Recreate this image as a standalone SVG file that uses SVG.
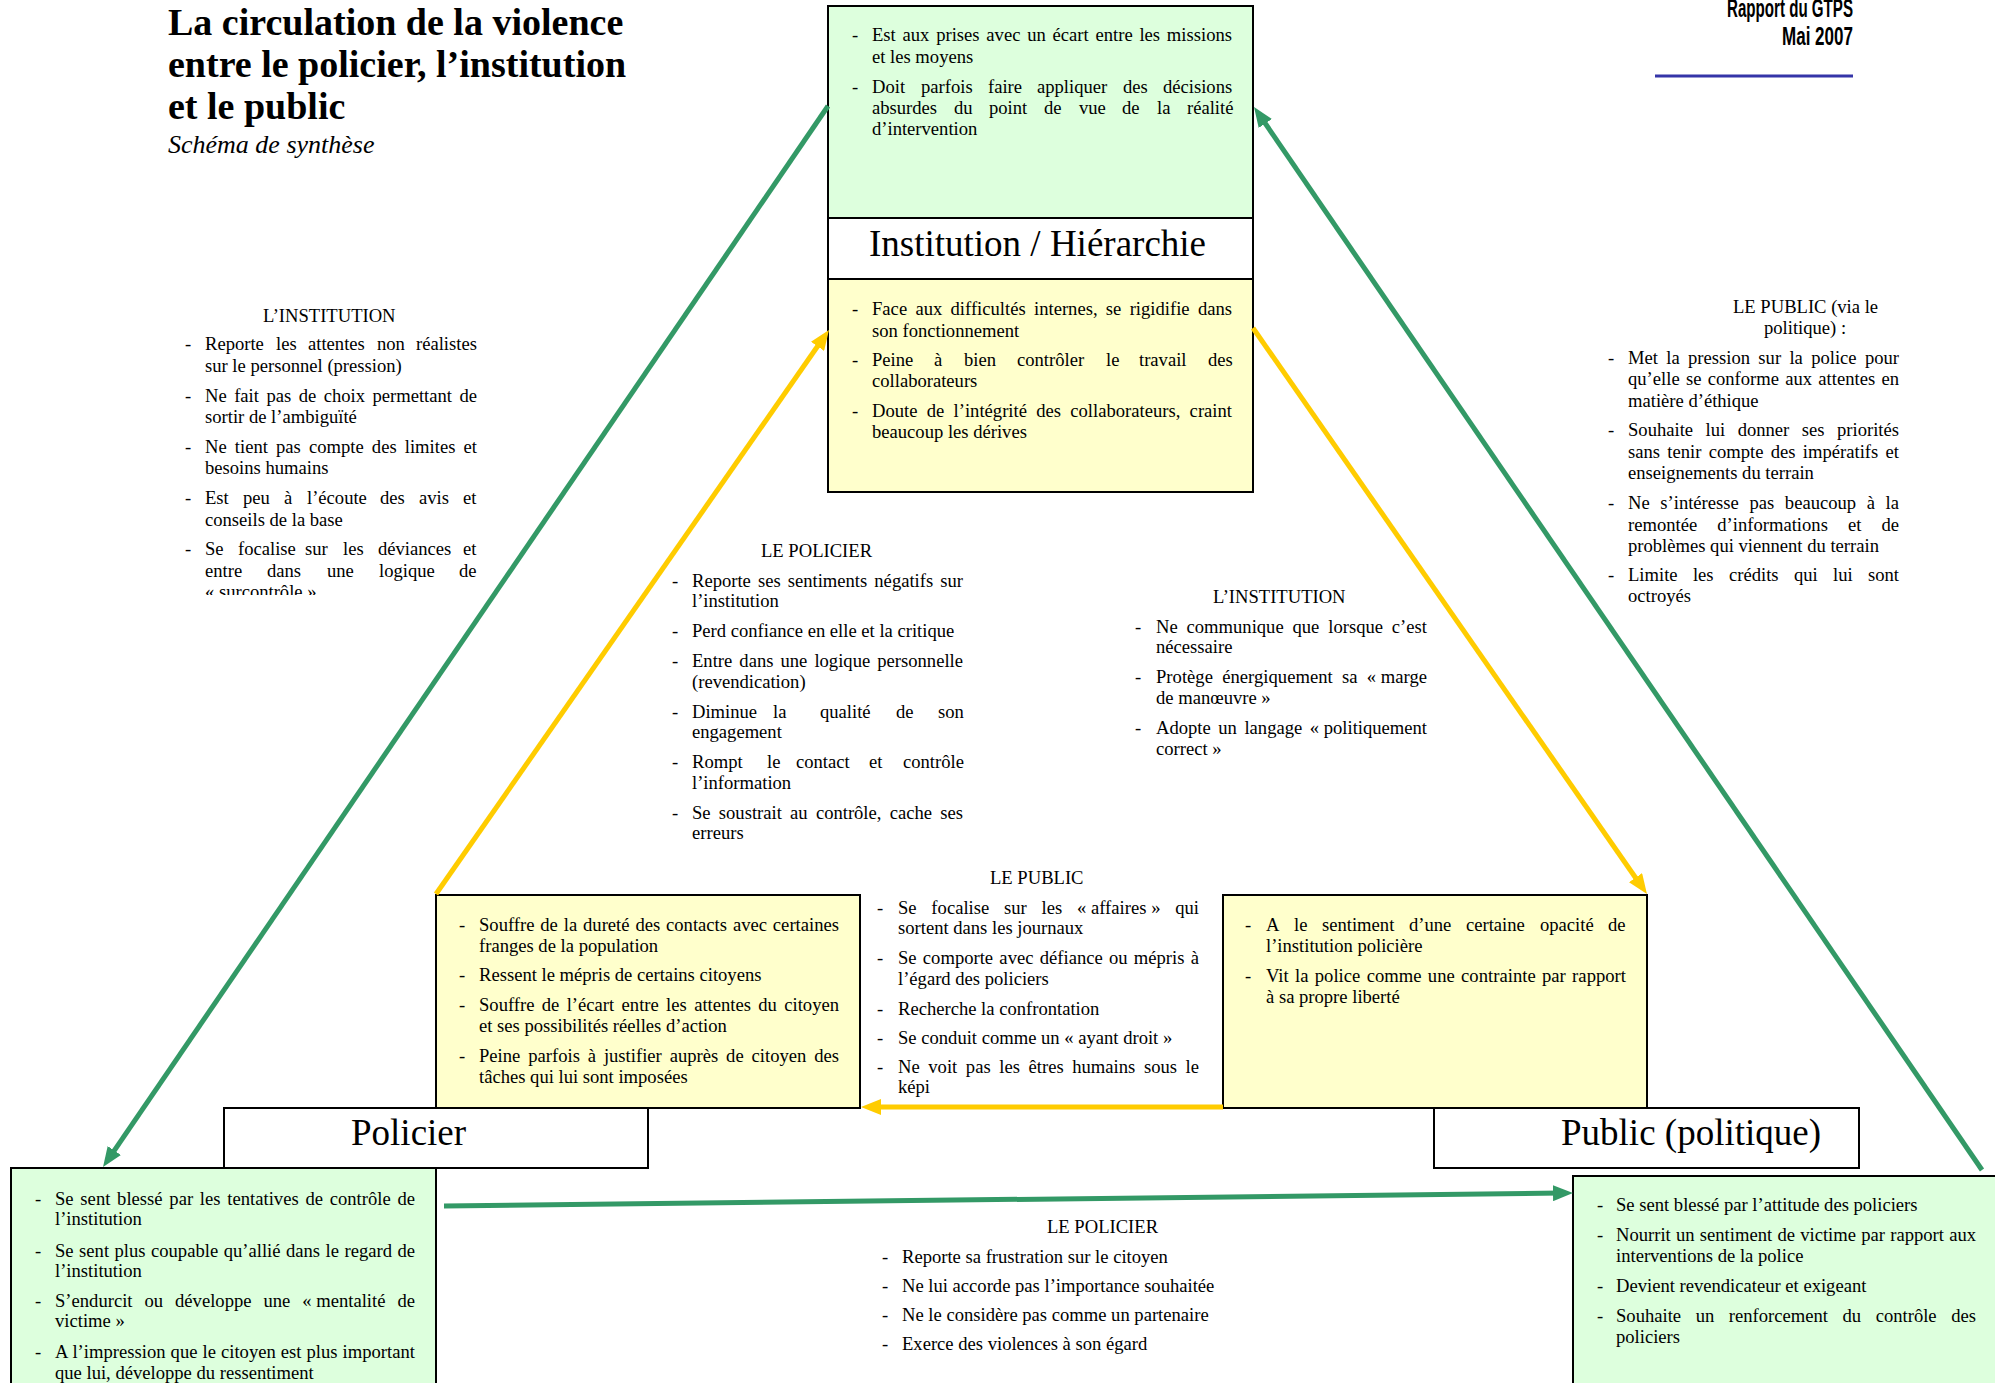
<svg xmlns="http://www.w3.org/2000/svg" width="1995" height="1383" viewBox="0 0 1995 1383">
  <defs>
    <style>
      text { font-family: "Liberation Serif", "Times New Roman", serif; font-size: 18.6px; fill: #000; }
      .lbl { font-size: 37px; }
      .title { font-size: 38px; font-weight: bold; }
      .sub { font-size: 26px; font-style: italic; }
      .rep { font-family: "Liberation Sans", Arial, sans-serif; font-weight: bold; font-size: 25px; }
      .box { stroke: #000; stroke-width: 2; }
      .g { fill: #ddffdd; }
      .y { fill: #ffffcc; }
      .w { fill: #ffffff; }
      .cg { stroke: #339966; stroke-width: 5; fill: none; }
      .cy { stroke: #ffcc00; stroke-width: 5; fill: none; }
    </style>
    <marker id="ag" markerUnits="userSpaceOnUse" markerWidth="20" markerHeight="16" viewBox="0 0 20 16" refX="8" refY="8" orient="auto">
      <path d="M0,0 L20,8 L0,16 z" fill="#339966"/>
    </marker>
    <marker id="ay" markerUnits="userSpaceOnUse" markerWidth="20" markerHeight="16" viewBox="0 0 20 16" refX="8" refY="8" orient="auto">
      <path d="M0,0 L20,8 L0,16 z" fill="#ffcc00"/>
    </marker>
    <clipPath id="clipLeft">
      <rect x="150" y="290" width="340" height="305"/>
    </clipPath>
  </defs>

  <rect width="1995" height="1383" fill="#ffffff"/>

  <!-- Title -->
  <g id="title">
    <text class="title" x="168" y="35">La circulation de la violence</text>
    <text class="title" x="168" y="77">entre le policier, l’institution</text>
    <text class="title" x="168" y="119">et le public</text>
    <text class="sub" x="168" y="153">Schéma de synthèse</text>
  </g>

  <!-- Report reference, top right -->
  <g id="header">
    <text class="rep" x="1853" y="17" text-anchor="end" textLength="126" lengthAdjust="spacingAndGlyphs">Rapport du GTPS</text>
    <text class="rep" x="1853" y="45" text-anchor="end" textLength="71" lengthAdjust="spacingAndGlyphs">Mai 2007</text>
    <line x1="1655" y1="76" x2="1853" y2="76" stroke="#3535a8" stroke-width="3"/>
  </g>

  <!-- Institution / Hiérarchie -->
  <g id="node-institution">
    <rect class="box g" x="828" y="6" width="425" height="212"/>
    <rect class="box w" x="828" y="218" width="425" height="61"/>
    <rect class="box y" x="828" y="279" width="425" height="213"/>
    <text class="lbl" x="869" y="256">Institution / Hiérarchie</text>

    <text x="852" y="41">-</text>
    <text x="872" y="41" textLength="360" lengthAdjust="spacing" word-spacing="2.1">Est aux prises avec un écart entre les missions</text>
    <text x="872" y="63">et les moyens</text>
    <text x="852" y="93">-</text>
    <text y="93"><tspan x="872">Doit</tspan><tspan x="921">parfois</tspan><tspan x="988">faire</tspan><tspan x="1037">appliquer</tspan><tspan x="1123">des</tspan><tspan x="1163">décisions</tspan></text>
    <text y="114"><tspan x="872">absurdes</tspan><tspan x="954">du</tspan><tspan x="989">point</tspan><tspan x="1044">de</tspan><tspan x="1079">vue</tspan><tspan x="1122">de</tspan><tspan x="1157">la</tspan><tspan x="1187">réalité</tspan></text>
    <text x="872" y="135">d’intervention</text>

    <text x="852" y="315">-</text>
    <text x="872" y="315" textLength="360" lengthAdjust="spacing" word-spacing="3.6">Face aux difficultés internes, se rigidifie dans</text>
    <text x="872" y="337">son fonctionnement</text>
    <text x="852" y="366">-</text>
    <text y="366"><tspan x="872">Peine</tspan><tspan x="934">à</tspan><tspan x="964">bien</tspan><tspan x="1017">contrôler</tspan><tspan x="1106">le</tspan><tspan x="1139">travail</tspan><tspan x="1208">des</tspan></text>
    <text x="872" y="387">collaborateurs</text>
    <text x="852" y="417">-</text>
    <text x="872" y="417" textLength="360" lengthAdjust="spacing" word-spacing="4.6">Doute de l’intégrité des collaborateurs, craint</text>
    <text x="872" y="438">beaucoup les dérives</text>
  </g>

  <!-- Policier -->
  <g id="node-policier">
    <rect class="box y" x="436" y="895" width="424" height="213"/>
    <rect class="box w" x="224" y="1108" width="424" height="60"/>
    <rect class="box g" x="11" y="1168" width="425" height="240"/>
    <text class="lbl" x="351" y="1145">Policier</text>

    <text x="459" y="931">-</text>
    <text x="479" y="931" textLength="360" lengthAdjust="spacing" word-spacing="1.2">Souffre de la dureté des contacts avec certaines</text>
    <text x="479" y="952">franges de la population</text>
    <text x="459" y="981">-</text>
    <text x="479" y="981">Ressent le mépris de certains citoyens</text>
    <text x="459" y="1011">-</text>
    <text x="479" y="1011" textLength="360" lengthAdjust="spacing" word-spacing="2.7">Souffre de l’écart entre les attentes du citoyen</text>
    <text x="479" y="1032">et ses possibilités réelles d’action</text>
    <text x="459" y="1062">-</text>
    <text x="479" y="1062" textLength="360" lengthAdjust="spacing" word-spacing="3.2">Peine parfois à justifier auprès de citoyen des</text>
    <text x="479" y="1083">tâches qui lui sont imposées</text>

    <text x="35" y="1205">-</text>
    <text x="55" y="1205" textLength="360" lengthAdjust="spacing" word-spacing="2.1">Se sent blessé par les tentatives de contrôle de</text>
    <text x="55" y="1225">l’institution</text>
    <text x="35" y="1257">-</text>
    <text x="55" y="1257" textLength="360" lengthAdjust="spacing" word-spacing="0.8">Se sent plus coupable qu’allié dans le regard de</text>
    <text x="55" y="1277">l’institution</text>
    <text x="35" y="1307">-</text>
    <text x="55" y="1307" textLength="360" lengthAdjust="spacing" word-spacing="7.3">S’endurcit ou développe une <tspan word-spacing="0">« mentalité</tspan> de</text>
    <text x="55" y="1327">victime »</text>
    <text x="35" y="1358">-</text>
    <text x="55" y="1358" textLength="360" lengthAdjust="spacing" word-spacing="0.3">A l’impression que le citoyen est plus important</text>
    <text x="55" y="1379">que lui, développe du ressentiment</text>
  </g>

  <!-- Public (politique) -->
  <g id="node-public">
    <rect class="box y" x="1223" y="895" width="424" height="213"/>
    <rect class="box w" x="1434" y="1108" width="425" height="60"/>
    <rect class="box g" x="1573" y="1176" width="440" height="230"/>
    <text class="lbl" x="1561" y="1145">Public (politique)</text>

    <text x="1245" y="931">-</text>
    <text y="931"><tspan x="1266">A</tspan><tspan x="1294">le</tspan><tspan x="1322">sentiment</tspan><tspan x="1409">d’une</tspan><tspan x="1466">certaine</tspan><tspan x="1540">opacité</tspan><tspan x="1608">de</tspan></text>
    <text x="1266" y="952">l’institution policière</text>
    <text x="1245" y="982">-</text>
    <text x="1266" y="982" textLength="360" lengthAdjust="spacing" word-spacing="1.6">Vit la police comme une contrainte par rapport</text>
    <text x="1266" y="1003">à sa propre liberté</text>

    <text x="1597" y="1211">-</text>
    <text x="1616" y="1211">Se sent blessé par l’attitude des policiers</text>
    <text x="1597" y="1241">-</text>
    <text x="1616" y="1241" textLength="360" lengthAdjust="spacing" word-spacing="0.6">Nourrit un sentiment de victime par rapport aux</text>
    <text x="1616" y="1262">interventions de la police</text>
    <text x="1597" y="1292">-</text>
    <text x="1616" y="1292">Devient revendicateur et exigeant</text>
    <text x="1597" y="1322">-</text>
    <text x="1616" y="1322" textLength="360" lengthAdjust="spacing" word-spacing="9.9">Souhaite un renforcement du contrôle des</text>
    <text x="1616" y="1343">policiers</text>
  </g>

  <!-- Connectors -->
  <g id="connectors">
    <line class="cg" x1="828" y1="106" x2="109.8" y2="1157.1" marker-end="url(#ag)"/>
    <line class="cg" x1="1982" y1="1170" x2="1260.8" y2="116.9" marker-end="url(#ag)"/>
    <line class="cg" x1="444" y1="1206" x2="1561" y2="1193.1" marker-end="url(#ag)"/>
    <line class="cy" x1="436" y1="894" x2="822.1" y2="339.8" marker-end="url(#ay)"/>
    <line class="cy" x1="1253" y1="328" x2="1640.1" y2="884.2" marker-end="url(#ay)"/>
    <line class="cy" x1="1223" y1="1107" x2="873" y2="1107" marker-end="url(#ay)"/>
  </g>

  <!-- Institution towards Policier -->
  <g id="label-institution-policier" clip-path="url(#clipLeft)">
    <text x="263" y="322">L’INSTITUTION</text>
    <text x="185" y="350">-</text>
    <text y="350"><tspan x="205">Reporte</tspan><tspan x="276">les</tspan><tspan x="308">attentes</tspan><tspan x="377">non</tspan><tspan x="416">réalistes</tspan></text>
    <text x="205" y="372">sur le personnel (pression)</text>
    <text x="185" y="402">-</text>
    <text x="205" y="402" textLength="272" lengthAdjust="spacing" word-spacing="2.8">Ne fait pas de choix permettant de</text>
    <text x="205" y="423">sortir de l’ambiguïté</text>
    <text x="185" y="453">-</text>
    <text x="205" y="453" textLength="272" lengthAdjust="spacing" word-spacing="3.5">Ne tient pas compte des limites et</text>
    <text x="205" y="474">besoins humains</text>
    <text x="185" y="504">-</text>
    <text y="504"><tspan x="205">Est</tspan><tspan x="243">peu</tspan><tspan x="284">à</tspan><tspan x="307">l’écoute</tspan><tspan x="380">des</tspan><tspan x="419">avis</tspan><tspan x="463">et</tspan></text>
    <text x="205" y="526">conseils de la base</text>
    <text x="185" y="555">-</text>
    <text y="555"><tspan x="205">Se</tspan><tspan x="238">focalise</tspan><tspan x="305">sur</tspan><tspan x="343">les</tspan><tspan x="378">déviances</tspan><tspan x="463">et</tspan></text>
    <text y="577"><tspan x="205">entre</tspan><tspan x="267">dans</tspan><tspan x="327">une</tspan><tspan x="379">logique</tspan><tspan x="459">de</tspan></text>
    <text x="205" y="598">« surcontrôle »</text>
  </g>

  <!-- Policier towards Institution -->
  <g id="label-policier-institution">
    <text x="761" y="557">LE POLICIER</text>
    <text x="672" y="587">-</text>
    <text x="692" y="587" textLength="271" lengthAdjust="spacing" word-spacing="2.4">Reporte ses sentiments négatifs sur</text>
    <text x="692" y="607">l’institution</text>
    <text x="672" y="637">-</text>
    <text x="692" y="637">Perd confiance en elle et la critique</text>
    <text x="672" y="667">-</text>
    <text x="692" y="667" textLength="271" lengthAdjust="spacing" word-spacing="2.4">Entre dans une logique personnelle</text>
    <text x="692" y="688">(revendication)</text>
    <text x="672" y="718">-</text>
    <text y="718"><tspan x="692">Diminue</tspan><tspan x="773">la</tspan><tspan x="820">qualité</tspan><tspan x="896">de</tspan><tspan x="938">son</tspan></text>
    <text x="692" y="738">engagement</text>
    <text x="672" y="768">-</text>
    <text y="768"><tspan x="692">Rompt</tspan><tspan x="767">le</tspan><tspan x="796">contact</tspan><tspan x="869">et</tspan><tspan x="903">contrôle</tspan></text>
    <text x="692" y="789">l’information</text>
    <text x="672" y="819">-</text>
    <text x="692" y="819" textLength="271" lengthAdjust="spacing" word-spacing="3.6">Se soustrait au contrôle, cache ses</text>
    <text x="692" y="839">erreurs</text>
  </g>

  <!-- Institution towards Public -->
  <g id="label-institution-public">
    <text x="1213" y="603">L’INSTITUTION</text>
    <text x="1135" y="633">-</text>
    <text x="1156" y="633" textLength="271" lengthAdjust="spacing" word-spacing="4.2">Ne communique que lorsque c’est</text>
    <text x="1156" y="653">nécessaire</text>
    <text x="1135" y="683">-</text>
    <text x="1156" y="683" textLength="271" lengthAdjust="spacing" word-spacing="4.6">Protège énergiquement sa <tspan word-spacing="0">« marge</tspan></text>
    <text x="1156" y="704">de manœuvre »</text>
    <text x="1135" y="734">-</text>
    <text x="1156" y="734" textLength="271" lengthAdjust="spacing" word-spacing="2.9">Adopte un langage <tspan word-spacing="0">« politiquement</tspan></text>
    <text x="1156" y="755">correct »</text>
  </g>

  <!-- Public towards Institution -->
  <g id="label-public-institution">
    <text x="1733" y="313">LE PUBLIC (via le</text>
    <text x="1764" y="334">politique) :</text>
    <text x="1608" y="364">-</text>
    <text x="1628" y="364" textLength="271" lengthAdjust="spacing" word-spacing="3.7">Met la pression sur la police pour</text>
    <text x="1628" y="385" textLength="271" lengthAdjust="spacing" word-spacing="1.6">qu’elle se conforme aux attentes en</text>
    <text x="1628" y="407">matière d’éthique</text>
    <text x="1608" y="436">-</text>
    <text x="1628" y="436" textLength="271" lengthAdjust="spacing" word-spacing="7.8">Souhaite lui donner ses priorités</text>
    <text x="1628" y="458" textLength="271" lengthAdjust="spacing" word-spacing="2.6">sans tenir compte des impératifs et</text>
    <text x="1628" y="479">enseignements du terrain</text>
    <text x="1608" y="509">-</text>
    <text x="1628" y="509" textLength="271" lengthAdjust="spacing" word-spacing="6">Ne s’intéresse pas beaucoup à la</text>
    <text x="1628" y="531" textLength="271" lengthAdjust="spacing" word-spacing="15.4">remontée d’informations et de</text>
    <text x="1628" y="552">problèmes qui viennent du terrain</text>
    <text x="1608" y="581">-</text>
    <text x="1628" y="581" textLength="271" lengthAdjust="spacing" word-spacing="10.7">Limite les crédits qui lui sont</text>
    <text x="1628" y="602">octroyés</text>
  </g>

  <!-- Public towards Policier -->
  <g id="label-public-policier">
    <text x="990" y="884">LE PUBLIC</text>
    <text x="877" y="914">-</text>
    <text x="898" y="914" textLength="301" lengthAdjust="spacing" word-spacing="10.1">Se focalise sur les <tspan word-spacing="0">« affaires »</tspan> qui</text>
    <text x="898" y="934">sortent dans les journaux</text>
    <text x="877" y="964">-</text>
    <text x="898" y="964" textLength="301" lengthAdjust="spacing" word-spacing="1.6">Se comporte avec défiance ou mépris à</text>
    <text x="898" y="985">l’égard des policiers</text>
    <text x="877" y="1015">-</text>
    <text x="898" y="1015">Recherche la confrontation</text>
    <text x="877" y="1044">-</text>
    <text x="898" y="1044">Se conduit comme un « ayant droit »</text>
    <text x="877" y="1073">-</text>
    <text x="898" y="1073" textLength="301" lengthAdjust="spacing" word-spacing="4">Ne voit pas les êtres humains sous le</text>
    <text x="898" y="1093">képi</text>
  </g>

  <!-- Policier towards Public -->
  <g id="label-policier-public">
    <text x="1047" y="1233">LE POLICIER</text>
    <text x="882" y="1263">-</text>
    <text x="902" y="1263">Reporte sa frustration sur le citoyen</text>
    <text x="882" y="1292">-</text>
    <text x="902" y="1292">Ne lui accorde pas l’importance souhaitée</text>
    <text x="882" y="1321">-</text>
    <text x="902" y="1321">Ne le considère pas comme un partenaire</text>
    <text x="882" y="1350">-</text>
    <text x="902" y="1350">Exerce des violences à son égard</text>
  </g>
</svg>
